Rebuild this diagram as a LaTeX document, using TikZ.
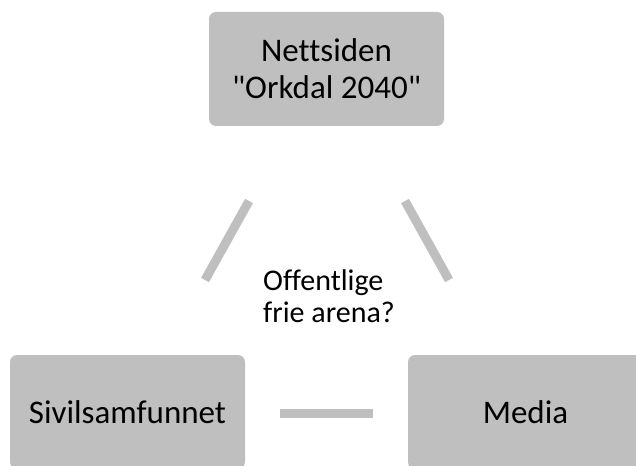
\documentclass[tikz,border=0pt]{standalone}
\usepackage{fontspec}
\setmainfont{Carlito}[Ligatures={TeXOff,NoCommon}]
\definecolor{boxgray}{HTML}{BFBFBF}
\tikzset{
  boxnode/.style={fill=boxgray, rounded corners=7pt, inner sep=0pt, align=center,
    minimum width=235pt, minimum height=114pt, font=\fontsize{33}{37}\selectfont},
  link/.style={draw=boxgray, line width=9pt}
}
\begin{document}
\begin{tikzpicture}[x=1pt,y=-1pt]
\useasboundingbox (0,0) rectangle (636,465);
\node[boxnode] (top) at (326.5,69) {Nettsiden\\"Orkdal 2040"};
\node[boxnode] (civ) at (127.5,412) {Sivilsamfunnet};
\node[boxnode] (media) at (525.5,412) {Media};
\coordinate (l1) at (249,201);
\coordinate (l2) at (205,280);
\coordinate (r1) at (405,201);
\coordinate (r2) at (449,280);
\coordinate (h1) at (280,413);
\coordinate (h2) at (373,413);
\draw[link] (l1) -- (l2);
\draw[link] (r1) -- (r2);
\draw[link] (h1) -- (h2);
\node[align=left, anchor=base west, inner sep=0pt, font=\fontsize{30}{32}\selectfont] (txt) at (263,322) {Offentlige\\frie arena?};
\end{tikzpicture}
\end{document}
